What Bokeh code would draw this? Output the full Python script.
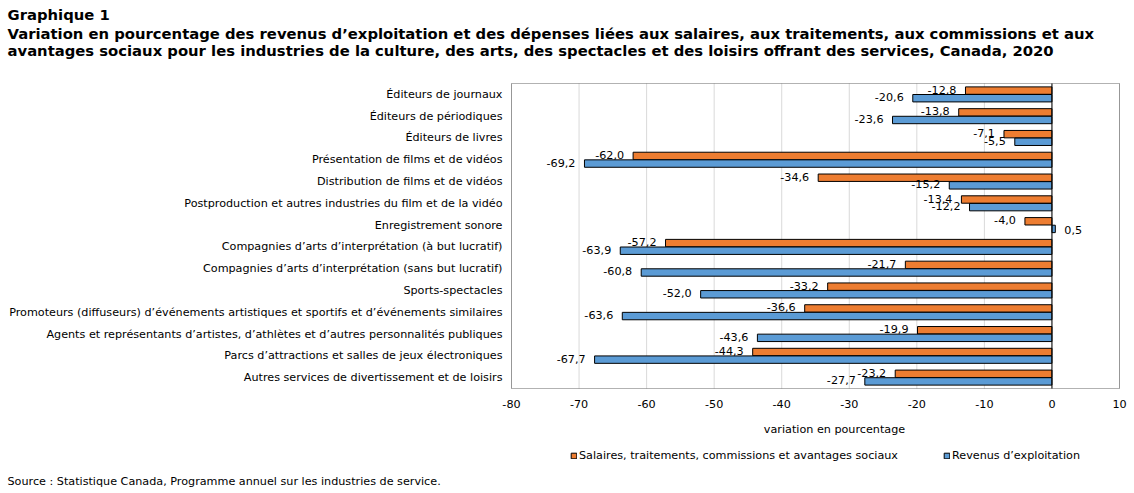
from bokeh.plotting import figure
from bokeh.models import (Range1d, Legend, LegendItem, ColumnDataSource, FixedTicker,
                          Title, Label, BoxAnnotation)
from bokeh.transform import dodge
from bokeh.core.properties import value
from bokeh.embed import file_html
from bokeh.resources import INLINE

industries = [
    "Éditeurs de journaux",
    "Éditeurs de périodiques",
    "Éditeurs de livres",
    "Présentation de films et de vidéos",
    "Distribution de films et de vidéos",
    "Postproduction et autres industries du film et de la vidéo",
    "Enregistrement sonore",
    "Compagnies d\u2019arts d\u2019interprétation (à but lucratif)",
    "Compagnies d\u2019arts d\u2019interprétation (sans but lucratif)",
    "Sports-spectacles",
    "Promoteurs (diffuseurs) d\u2019événements artistiques et sportifs et d\u2019événements similaires",
    "Agents et représentants d\u2019artistes, d\u2019athlètes et d\u2019autres personnalités publiques",
    "Parcs d\u2019attractions et salles de jeux électroniques",
    "Autres services de divertissement et de loisirs",
]
salaires = [-12.8, -13.8, -7.1, -62.0, -34.6, -13.4, -4.0, -57.2, -21.7, -33.2, -36.6, -19.9, -44.3, -23.2]
revenus = [-20.6, -23.6, -5.5, -69.2, -15.2, -12.2, 0.5, -63.9, -60.8, -52.0, -63.6, -43.6, -67.7, -27.7]
x_ticks = [-80, -70, -60, -50, -40, -30, -20, -10, 0, 10]

label_sal = "Salaires, traitements, commissions et avantages sociaux"
label_rev = "Revenus d\u2019exploitation"
title_lines = [
    "Graphique 1",
    "Variation en pourcentage des revenus d\u2019exploitation et des dépenses liées aux salaires, aux traitements, aux commissions et aux",
    "avantages sociaux pour les industries de la culture, des arts, des spectacles et des loisirs offrant des services, Canada, 2020",
]
axis_title = "variation en pourcentage"
source_note = "Source : Statistique Canada, Programme annuel sur les industries de service."

FONT = "DejaVu Sans"
ORANGE = "#ED7D31"
BLUE = "#5B9BD5"
FS = "11.2px"

# page geometry (px)
W, H = 1134, 493
FRAME_LEFT, FRAME_RIGHT = 495, 1134
FRAME_TOP, FRAME_BOTTOM = 82, 472
BOX_LEFT, BOX_RIGHT = 511, 1119        # plot box holding the bars
BOX_TOP, BOX_BOTTOM = 83, 388
X_MIN, X_MAX = x_ticks[0], x_ticks[-1]
N = len(industries)

px_x = (BOX_RIGHT - BOX_LEFT) / (X_MAX - X_MIN)
px_y = (BOX_BOTTOM - BOX_TOP) / N
x_range = Range1d(X_MIN - (BOX_LEFT - FRAME_LEFT) / px_x, X_MAX + (FRAME_RIGHT - BOX_RIGHT) / px_x)
y_range = Range1d(-(FRAME_BOTTOM - BOX_BOTTOM) / px_y, N + (BOX_TOP - FRAME_TOP) / px_y)

# one row per industry, first one at the top
ypos = [N - i - 0.5 for i in range(N)]


def fmt(v):
    return f"{v:.1f}".replace(".", ",")


p = figure(
    width=W, height=H, x_range=x_range, y_range=y_range,
    output_backend="svg", toolbar_location=None,
    min_border_left=FRAME_LEFT, min_border_right=W - FRAME_RIGHT,
    min_border_top=FRAME_TOP, min_border_bottom=H - FRAME_BOTTOM,
)
p.outline_line_color = None
p.grid.visible = False

# vertical grid lines inside the plot box
p.segment(x0=x_ticks, x1=x_ticks, y0=0, y1=N, line_color="#D9D9D9", line_width=1)

# x axis pinned to the bottom of the plot box
p.xaxis.fixed_location = 0
p.xaxis.ticker = FixedTicker(ticks=x_ticks)
p.xaxis.major_label_overrides = {t: str(t) for t in x_ticks}
p.xaxis.axis_line_color = None
p.xaxis.major_tick_line_color = None
p.xaxis.minor_tick_line_color = None
p.xaxis.major_tick_out = 0
p.xaxis.minor_tick_out = 0
p.xaxis.major_label_standoff = 11
p.xaxis.major_label_text_font = FONT
p.xaxis.major_label_text_font_size = FS
p.xaxis.major_label_text_color = "black"

# industry names on the y axis, right-aligned just left of the plot box
p.yaxis.ticker = FixedTicker(ticks=ypos)
p.yaxis.major_label_overrides = dict(zip(ypos, industries))
p.yaxis.axis_line_color = None
p.yaxis.major_tick_line_color = None
p.yaxis.minor_tick_line_color = None
p.yaxis.major_tick_out = 0
p.yaxis.minor_tick_out = 0
p.yaxis.major_label_standoff = FRAME_LEFT - 502
p.yaxis.major_label_text_font = FONT
p.yaxis.major_label_text_font_size = FS
p.yaxis.major_label_text_color = "black"

src = ColumnDataSource(dict(y=ypos, sal=salaires, rev=revenus))

r_sal = p.hbar(y=dodge("y", 0.175), left=0, right="sal", height=0.34,
               source=src, fill_color=ORANGE, line_color="black", line_width=1)
r_rev = p.hbar(y=dodge("y", -0.175), left=0, right="rev", height=0.34,
               source=src, fill_color=BLUE, line_color="black", line_width=1)

# zero line
p.segment(x0=[0], x1=[0], y0=[0], y1=[N], line_color="black", line_width=1)

# plot box border
p.add_layout(BoxAnnotation(left=X_MIN, right=X_MAX, bottom=0, top=N,
                           fill_alpha=0, line_color="black", line_width=1))

# value labels at the end of each bar
for vals, off in ((salaires, 0.175), (revenus, -0.175)):
    for neg, xo, align in ((True, -9, "right"), (False, 9, "left")):
        rows = [(y, v) for y, v in zip(ypos, vals) if (v < 0) == neg]
        if not rows:
            continue
        s = ColumnDataSource(dict(y=[a for a, _ in rows], v=[b for _, b in rows],
                                  t=[fmt(b) for _, b in rows]))
        p.text(x="v", y=dodge("y", off), text="t", source=s,
               x_offset=xo, y_offset=-1 if neg else 1, text_align=align,
               text_baseline="middle", text_font=value(FONT), text_font_size=FS,
               text_color="black")

# axis title
p.add_layout(Label(x=834 - FRAME_LEFT, y=FRAME_BOTTOM - 429, x_units="screen", y_units="screen",
                   text=axis_title, text_align="center", text_baseline="middle",
                   text_font=FONT, text_font_size=FS, text_color="black"))

legend = Legend(items=[LegendItem(label=label_sal, renderers=[r_sal]),
                       LegendItem(label=label_rev, renderers=[r_rev])],
                location=(570 - FRAME_LEFT, FRAME_BOTTOM - 461.5), orientation="horizontal",
                padding=0, margin=0, spacing=45,
                border_line_alpha=0, background_fill_alpha=0,
                glyph_width=7, glyph_height=7, label_standoff=2,
                label_height=13, label_text_font=FONT, label_text_font_size=FS,
                label_text_color="black")
p.add_layout(legend)


def side_title(text, x, valign, pad=(0, 0, 0, 0), size=FS, bold=False):
    # pad: (left, right, top, bottom)
    return Title(text=text, align="left", offset=x - FRAME_LEFT, vertical_align=valign,
                 standoff=0, padding=pad, text_font=FONT, text_font_size=size,
                 text_font_style="bold" if bold else "normal", text_color="black")


# heading lines, stacked outward from the plot area
p.add_layout(side_title(title_lines[2], 7, "top", pad=(0, 0, 0, 22), size="14.8px", bold=True), "above")
p.add_layout(side_title(title_lines[1], 7, "bottom", size="14.8px", bold=True), "above")
p.add_layout(side_title(title_lines[0], 7, "bottom", size="14.8px", bold=True), "above")

# source note
p.add_layout(side_title(source_note, 7, "bottom"), "below")

open("out.html", "w").write(file_html(p, INLINE))
